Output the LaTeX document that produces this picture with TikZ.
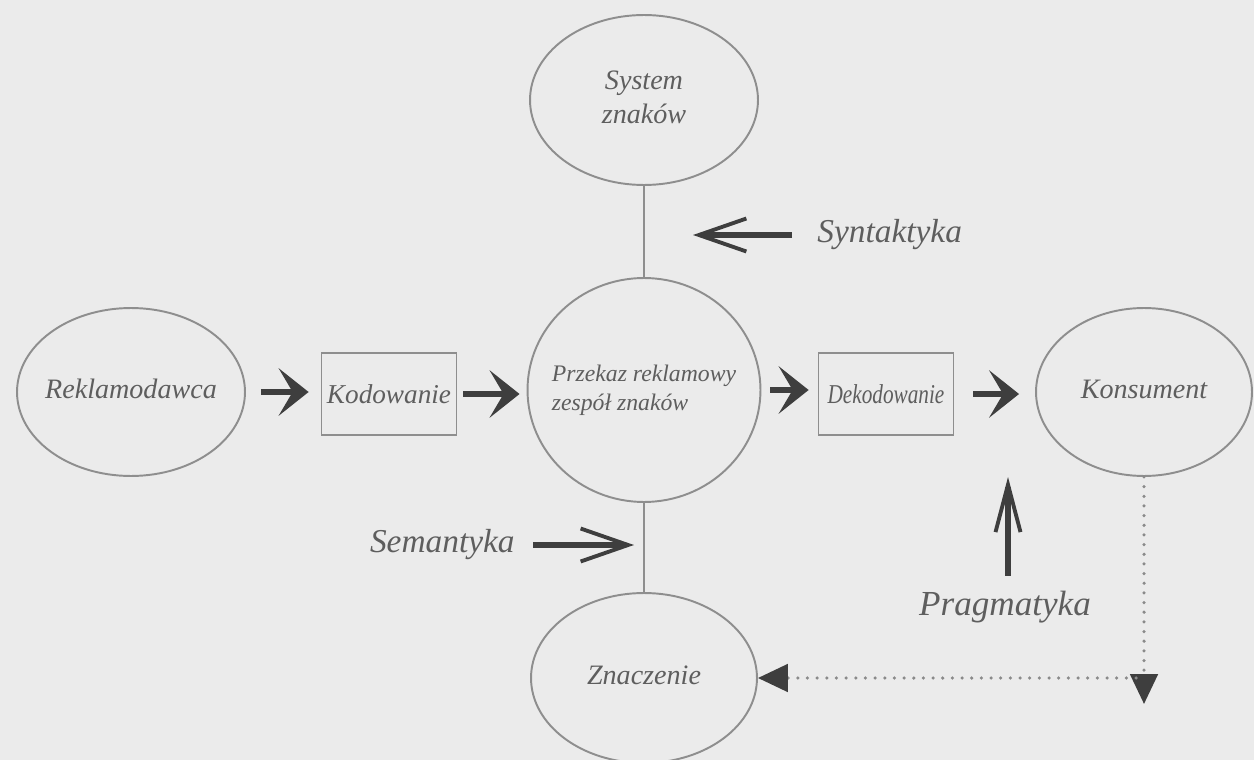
\documentclass[tikz,border=0pt]{standalone}
\usepackage{fontspec}
\setmainfont{Liberation Serif}
\usetikzlibrary{shapes.geometric,arrows.meta,calc}
\definecolor{bg}{HTML}{EBEBEB}
\definecolor{linec}{HTML}{8E8E8E}
\definecolor{txt}{HTML}{5E5E5E}
\definecolor{arr}{HTML}{3E3E3E}
\definecolor{dotc}{HTML}{8A8A8A}
\newcommand{\ctext}[2]{\makebox[0pt]{\begin{tabular}{@{}#1@{}}#2\end{tabular}}}
\begin{document}
\begin{tikzpicture}[x=0.02cm,y=-0.02cm,
  oval/.style={ellipse, draw=linec, line width=1.1pt, inner sep=0pt, text=txt,
    font=\itshape\fontsize{16}{19}\selectfont},
  box/.style={rectangle, draw=linec, line width=1pt, inner sep=0pt,
    minimum width=2.7cm, minimum height=1.64cm, text=txt,
    font=\itshape\fontsize{15.5}{19}\selectfont},
  side/.style={text=txt, font=\itshape\fontsize{19}{22}\selectfont, inner sep=0pt},
  link/.style={draw=linec, line width=1.1pt},
  flow/.style={draw=arr, line width=3.5pt, -{Stealth[length=0.6cm,width=0.95cm,inset=0.28cm]}},
  hint/.style={draw=arr, line width=3pt, -{Straight Barb[length=0.95cm,width=0.66cm,line width=2.2pt]}},
  dots/.style={draw=dotc, line width=2pt, line cap=round, dash pattern=on 0pt off 5.5pt},
  dothead/.style={-{Triangle[length=0.6cm,width=0.55cm,color=arr]}}
]
\useasboundingbox (0,0) rectangle (1254,760);
\fill[bg] (0,0) rectangle (1254,760);

% nodes
\node[oval, minimum width=4.56cm, minimum height=3.4cm] (sys) at (644,100)
  {\ctext{c}{System\\znaków}};
\node[oval, minimum width=4.66cm, minimum height=4.48cm,
  font=\itshape\fontsize{13.5}{16.5}\selectfont] (prz) at (644,390)
  {\raisebox{-0.16cm}{\ctext{l}{Przekaz reklamowy\\zespół znaków}}};
\node[oval, minimum width=4.52cm, minimum height=3.4cm] (zn) at (644,678)
  {\ctext{c}{Znaczenie}};
\node[oval, minimum width=4.56cm, minimum height=3.36cm] (rek) at (131,392)
  {\ctext{c}{Reklamodawca}};
\node[oval, minimum width=4.32cm, minimum height=3.36cm] (kons) at (1144,392)
  {\ctext{c}{Konsument}};
\node[box] (kod) at (389,394) {Kodowanie};
\node[box] (dek) at (886,394) {\scalebox{0.78}[1]{Dekodowanie}};

% vertical links
\draw[link] (sys.south) -- (prz.north);
\draw[link] (prz.south) -- (zn.north);

% flow arrows
\draw[flow, shorten <=0.3cm, shorten >=0.24cm] (rek.east) -- (rek.east -| kod.west);
\draw[flow, shorten <=0.12cm, shorten >=0.14cm] (kod.east) -- (kod.east -| prz.west);
\draw[flow, shorten <=0.18cm, shorten >=0.18cm] (prz.east) -- (prz.east -| dek.west);
\draw[flow, shorten <=0.38cm, shorten >=0.32cm] (dek.east) -- (dek.east -| kons.west);

% side labels
\node[side, anchor=west] (syn) at (817,235) {Syntaktyka};
\coordinate (synt) at (693,235);
\draw[hint, shorten <=0.5cm] (syn.west) -- (synt);

\node[side, anchor=east] (sem) at (515,545) {Semantyka};
\coordinate (semt) at (634,545);
\draw[hint, shorten <=0.36cm] (sem.east) -- (semt);

\node[side, font=\itshape\fontsize{20}{23}\selectfont] (prag) at (1005,607) {Pragmatyka};
\coordinate (pragt) at (1008,477);
\draw[draw=arr, line width=3pt,
  -{Straight Barb[length=0.95cm,width=0.5cm,line width=2.2pt]},
  shorten <=0.3cm] (prag.north -| pragt) -- (pragt);

% dotted feedback
\coordinate (cord) at (1144,704);
\coordinate (cor) at (1136,678);
\draw[dots, dothead] (kons.south) -- (cord);
\draw[dots, dothead] (cor) -- (zn.east);
\end{tikzpicture}
\end{document}
